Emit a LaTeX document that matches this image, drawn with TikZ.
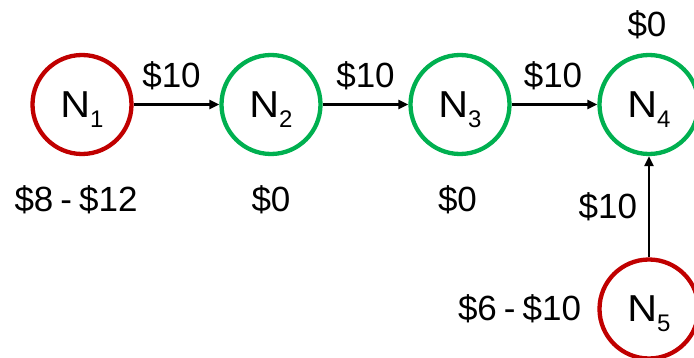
\documentclass[tikz,border=0pt]{standalone}
\usepackage{fontspec}
\setmainfont{Liberation Sans}
\usetikzlibrary{arrows.meta}
\definecolor{nodered}{HTML}{C00000}
\definecolor{nodegreen}{HTML}{00B050}
% node name: N with a lowered, smaller index that adds no depth
\newcommand{\nsub}[1]{{\fontsize{37.5}{37.5}\selectfont\scalebox{1.1}[1]{N}}\raisebox{-10pt}[0pt][0pt]{\fontsize{24}{24}\selectfont #1}}
\begin{document}
\begin{tikzpicture}[x=1pt,y=-1pt,
  every node/.style={font=\fontsize{35}{35}\selectfont, inner sep=0pt},
  vertex/.style={circle, draw, line width=4.3pt, minimum size=99pt},
  src/.style={vertex, draw=nodered},
  dst/.style={vertex, draw=nodegreen},
  flow/.style={line width=2.8pt, -{Triangle[length=10pt,width=9pt]}},
  amount/.style={anchor=base}]
\useasboundingbox (0,0) rectangle (694,358);

% nodes
\node[src] (n1) at (82,104.5) {\nsub{1}};
\node[dst] (n2) at (271,104.5) {\nsub{2}};
\node[dst] (n3) at (460,104.5) {\nsub{3}};
\node[dst] (n4) at (649,104.5) {\nsub{4}};
\node[src] (n5) at (649,309) {\nsub{5}};

% flows between nodes
\draw[flow] (n1) -- node[amount, yshift=17pt, xshift=-5pt] (f12) {\$10} (n2);
\draw[flow] (n2) -- node[amount, yshift=17pt] (f23) {\$10} (n3);
\draw[flow] (n3) -- node[amount, yshift=17pt, xshift=-1.5pt] (f34) {\$10} (n4);
\draw[flow] (n5) -- node[anchor=base east, xshift=-10.5pt, yshift=-12pt] (f54) {\$10} (n4);

% node values
\node[amount] (v1) at (76,212) {\$8\hspace{7pt}-\hspace{7pt}\$12};
\node[amount] (v2) at (271,212) {\$0};
\node[amount] (v3) at (457.5,212) {\$0};
\node[amount] (v4) at (647,37) {\$0};
\node[amount] (v5) at (519.5,321) {\$6\hspace{7pt}-\hspace{7pt}\$10};
\end{tikzpicture}
\end{document}
